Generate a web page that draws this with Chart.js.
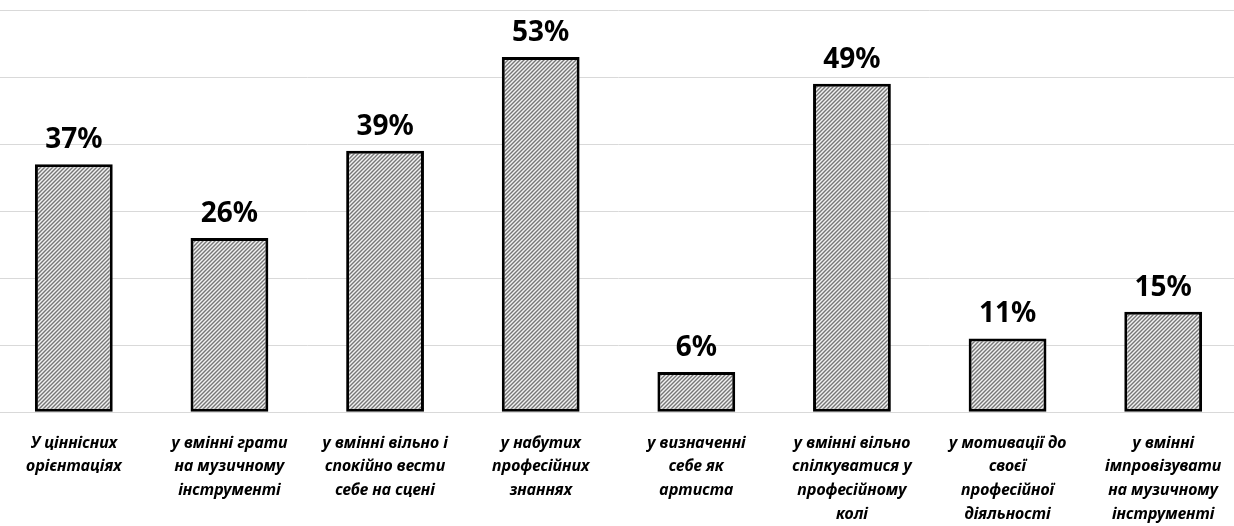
<!DOCTYPE html>
<html>
<head>
<meta charset="utf-8">
<script src="https://cdn.jsdelivr.net/npm/chart.js@4"></script>
<style>
  html, body { margin: 0; padding: 0; background: #fff; overflow: hidden; }
  #wrap { position: absolute; left: -4px; top: 0; width: 1245px; height: 537px; }
</style>
</head>
<body>
<div id="wrap"><canvas id="chart"></canvas></div>
<script>
// Categories (split into lines as in the picture)
const categories = [
  ['У ціннісних', 'орієнтаціях'],
  ['у вмінні грати', 'на музичному', 'інструменті'],
  ['у вмінні вільно і', 'спокійно вести', 'себе на сцені'],
  ['у набутих', 'професійних', 'знаннях'],
  ['у визначенні', 'себе як', 'артиста'],
  ['у вмінні вільно', 'спілкуватися у', 'професійному', 'колі'],
  ['у мотивації до', 'своєї', 'професійної', 'діяльності'],
  ['у вмінні', 'імпровізувати', 'на музичному', 'інструменті']
];
const values = [37, 26, 39, 53, 6, 49, 11, 15];
const yMax = 60;
const yStep = 10;

// Hatch fill like the diagonal pattern
function makeHatch() {
  const c = document.createElement('canvas');
  c.width = 4; c.height = 4;
  const g = c.getContext('2d');
  g.fillStyle = '#f2f2f2';
  g.fillRect(0, 0, 4, 4);
  g.strokeStyle = '#777777';
  g.lineWidth = 1.4;
  g.beginPath();
  g.moveTo(0, 4); g.lineTo(4, 0);
  g.moveTo(-1, 1); g.lineTo(1, -1);
  g.moveTo(3, 5); g.lineTo(5, 3);
  g.stroke();
  return g.createPattern(c, 'repeat');
}

// Value labels above bars
const valueLabels = {
  id: 'valueLabels',
  afterDatasetsDraw(chart) {
    const ctx = chart.ctx;
    const meta = chart.getDatasetMeta(0);
    ctx.save();
    ctx.font = 'bold 28px "Noto Sans"';
    ctx.fillStyle = '#000';
    ctx.textAlign = 'center';
    ctx.textBaseline = 'bottom';
    meta.data.forEach((bar, i) => {
      ctx.fillText(values[i] + '%', bar.x, bar.y - 10);
    });
    ctx.restore();
  }
};

const ctx = document.getElementById('chart').getContext('2d');
new Chart(ctx, {
  type: 'bar',
  data: {
    labels: categories,
    datasets: [{
      data: values,
      backgroundColor: makeHatch(),
      borderColor: '#000',
      borderWidth: 3,
      borderSkipped: false,
      barPercentage: 0.5,
      categoryPercentage: 1
    }]
  },
  options: {
    responsive: true,
    maintainAspectRatio: false,
    animation: false,
    layout: { padding: { top: 10, left: 0, right: 0, bottom: 0 } },
    plugins: {
      legend: { display: false },
      tooltip: { enabled: false }
    },
    scales: {
      x: {
        grid: { display: false },
        border: { color: '#d9d9d9' },
        ticks: {
          color: '#000',
          padding: 11,
          maxRotation: 0,
          autoSkip: false,
          font: { family: '"Noto Sans"', size: 16, weight: 'bold', style: 'italic', lineHeight: 1.48 }
        }
      },
      y: {
        min: 0,
        max: yMax,
        grid: { color: '#d9d9d9', drawTicks: false },
        border: { display: false },
        ticks: { display: false, stepSize: yStep }
      }
    }
  },
  plugins: [valueLabels]
});
</script>
</body>
</html>
